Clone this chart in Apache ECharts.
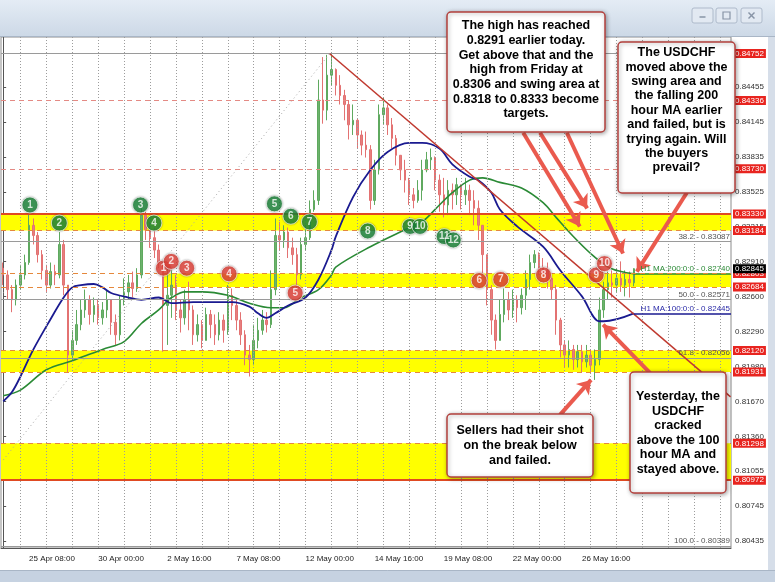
<!DOCTYPE html>
<html>
<head>
<meta charset="utf-8">
<script src="https://cdn.jsdelivr.net/npm/echarts@6/dist/echarts.min.js"></script>
<style>
html,body{margin:0;padding:0;background:#fff;}
#chart{width:775px;height:582px;}
</style>
</head>
<body>
<div id="chart"></div>
<script>
// USDCHF H1 chart, one candle per 4 hours
var catCount = 169;
var yMin = 0.80371, yMax = 0.84898;
var xTickLabels = ['25 Apr 08:00','30 Apr 00:00','2 May 16:00','7 May 08:00','12 May 00:00','14 May 16:00','19 May 08:00','22 May 00:00','26 May 16:00'];
var xTickIndex = [6,22,38,54,70,86,102,118,134];
var yTickValues = [0.84455,0.84145,0.83835,0.83525,0.83215,0.82910,0.82600,0.82290,0.81980,0.81670,0.81360,0.81055,0.80745,0.80435];

var firstOpen = 0.8285;
var closes = [
  .8279,.8266,.8257,.8270,.8279,.8290,.8323,.8314,.8297,.8283,
  .8270,.8282,.8279,.8306,.8270,.8208,.8221,.8235,.8248,.8257,
  .8244,.8252,.8241,.8248,.8257,.8237,.8226,.8257,.8264,.8272,
  .8267,.8279,.8332,.8319,.8312,.8301,.8290,.8252,.8261,.8270,
  .8248,.8241,.8257,.8248,.8226,.8235,.8221,.8244,.8235,.8226,
  .8239,.8230,.8261,.8252,.8239,.8226,.8208,.8204,.8221,.8230,
  .8239,.8235,.8266,.8314,.8310,.8317,.8303,.8297,.8279,.8306,
  .8312,.8337,.8345,.8434,.8425,.8456,.8461,.8447,.8438,.8430,
  .8412,.8416,.8403,.8394,.8390,.8345,.8372,.8421,.8427,.8412,
  .8400,.8385,.8372,.8363,.8350,.8345,.8354,.8372,.8381,.8383,
  .8363,.8350,.8341,.8354,.8350,.8359,.8350,.8354,.8345,.8338,
  .8323,.8297,.8266,.8239,.8221,.8244,.8257,.8248,.8257,.8250,
  .8261,.8275,.8290,.8297,.8285,.8283,.8276,.8266,.8239,.8217,
  .8208,.8213,.8204,.8211,.8202,.8208,.8199,.8204,.8248,.8266,
  .8272,.8270,.8276,.8270,.8275,.8272,.82845
];
var highs = [
  .8290,.8283,.8270,.8275,.8288,.8297,.8334,.8329,.8317,.8301,
  .8288,.8290,.8288,.8317,.8310,.8270,.8230,.8248,.8257,.8266,
  .8261,.8259,.8257,.8255,.8266,.8257,.8244,.8261,.8276,.8279,
  .8282,.8285,.8338,.8335,.8326,.8321,.8306,.8290,.8285,.8285,
  .8279,.8257,.8266,.8273,.8252,.8244,.8239,.8250,.8248,.8244,
  .8246,.8244,.8270,.8267,.8257,.8246,.8230,.8217,.8235,.8241,
  .8248,.8246,.8283,.8329,.8326,.8323,.8321,.8312,.8303,.8312,
  .8323,.8345,.8354,.8452,.8472,.8474,.8475,.8462,.8456,.8443,
  .8434,.8430,.8418,.8407,.8406,.8394,.8381,.8430,.8436,.8430,
  .8418,.8403,.8385,.8381,.8365,.8356,.8363,.8381,.8388,.8391,
  .8384,.8368,.8365,.8363,.8360,.8365,.8359,.8365,.8359,.8354,
  .8345,.8323,.8297,.8270,.8244,.8257,.8267,.8264,.8266,.8261,
  .8267,.8283,.8297,.8301,.8299,.8294,.8290,.8279,.8270,.8241,
  .8221,.8221,.8217,.8217,.8217,.8217,.8213,.8213,.8259,.8273,
  .8282,.8283,.8285,.8291,.8283,.8282,.8285
];
var lows = [
  .8270,.8257,.8246,.8252,.8266,.8275,.8288,.8306,.8290,.8275,
  .8264,.8267,.8270,.8276,.8261,.8193,.8202,.8217,.8230,.8241,
  .8235,.8237,.8235,.8235,.8241,.8226,.8217,.8221,.8252,.8257,
  .8259,.8264,.8276,.8310,.8303,.8294,.8285,.8211,.8217,.8241,
  .8239,.8228,.8235,.8230,.8217,.8220,.8214,.8221,.8223,.8217,
  .8221,.8219,.8226,.8239,.8230,.8217,.8199,.8189,.8199,.8214,
  .8226,.8228,.8232,.8261,.8301,.8303,.8294,.8288,.8261,.8275,
  .8301,.8310,.8335,.8341,.8413,.8416,.8447,.8438,.8430,.8416,
  .8399,.8403,.8391,.8385,.8383,.8337,.8341,.8368,.8412,.8403,
  .8391,.8376,.8363,.8352,.8341,.8338,.8343,.8345,.8370,.8372,
  .8354,.8335,.8330,.8332,.8337,.8341,.8337,.8341,.8332,.8323,
  .8310,.8279,.8252,.8226,.8213,.8221,.8237,.8239,.8241,.8237,
  .8244,.8248,.8266,.8285,.8279,.8275,.8267,.8257,.8226,.8206,
  .8197,.8197,.8195,.8197,.8193,.8197,.8193,.8186,.8199,.8241,
  .8257,.8259,.8264,.8264,.8260,.8259,.8269
];

// moving averages: [candle index, value]
var ma100 = [[0,.8167],[2,.8175],[4,.8189],[7,.8213],[11,.8240],[14,.8259],[16,.8268],[18,.8270],[21,.8271],[23,.8268],
  [25,.8263],[29,.8259],[32,.8257],[36,.8259],[39,.8254],[44,.8255],[48,.8255],[53,.8255],[57,.8251],[59,.8245],
  [61,.8241],[63,.8245],[66,.8252],[70,.8259],[73,.8275],[76,.8301],[77,.8313],[81,.8348],[85,.8372],[89,.8388],
  [94,.8396],[97,.8396],[101,.8391],[104,.8377],[108,.8366],[110,.8363],[113,.8352],[115,.8337],[119,.8322],[125,.8304],
  [129,.8283],[134,.8260],[138,.8238],[139,.8238],[146,.8245]];
var ma200 = [[0,.8172],[4,.8177],[10,.8195],[16,.8203],[23,.8213],[28,.8220],[32,.8236],[36,.8248],[38,.8256],[39,.8259],
  [42,.8264],[46,.8264],[52,.8261],[57,.8254],[62,.8250],[65,.8250],[69,.8259],[73,.8266],[76,.8279],[77,.8286],
  [85,.8304],[93,.8319],[97,.8326],[101,.8341],[104,.8352],[108,.8363],[111,.8365],[115,.8361],[120,.8356],[125,.8343],
  [128,.8330],[132,.8313],[136,.8298],[140,.8286],[143,.8282],[146,.8280]];
var ma100Text = 'H1 MA:100:0:0 - 0.82445';
var ma200Text = 'H1 MA:200:0:0 - 0.82740';

var levels = [0.84752,0.84336,0.83730,0.83330,0.83184,0.82803,0.82684,0.82120,0.81931,0.81298,0.80972];
var solidLevels = [0.83330,0.80972];
var faintLevels = [0.84336,0.83730];
var fibLevelOnly = [0.84752];
var bands = [[0.83330,0.83184],[0.82803,0.82684],[0.82120,0.81931],[0.81298,0.80972]];
var lateBand = 1, lateBandStart = 37;
var fibNames = ['0.0','38.2','50.0','61.8','100.0'];
var fibValues = [0.84752,0.83087,0.82571,0.82056,0.80389];
var fibDiagonal = [[0,0.8115],[75.6,0.8475]];
var trendLine = [[75.6,0.8475],[168.4,0.8171]];
var currentPrice = 0.82845;

var greenMarks = [[6.2,.8341,'1'],[13.0,.8325,'2'],[31.8,.8341,'3'],[34.9,.8325,'4'],[62.8,.8342,'5'],[66.6,.8331,'6'],
  [70.9,.8326,'7'],[84.4,.8318,'8'],[94.2,.8322,'9'],[96.5,.8322,'10'],[102.1,.8313,'11'],[104.2,.8310,'12']];
var redMarks = [[37.1,.8285,'1'],[38.9,.8291,'2'],[42.5,.8285,'3'],[52.3,.8280,'4'],[67.6,.8263,'5'],
  [110.2,.8274,'6'],[115.2,.8275,'7'],[125.1,.8279,'8'],[137.3,.8279,'9'],[139.2,.8289,'10']];

var arrows = [
  [[120.4,.8405],[133.5,.8322]],
  [[124.3,.8405],[135.2,.8338]],
  [[130.5,.8405],[143.5,.8298]],
  [[158.3,.8352],[146.7,.8282]],
  [[149.8,.8192],[138.9,.8235]],
  [[128.9,.8155],[136.1,.8186]]
];

var notes = [
  {box:[447,12,158,120], top:18.4, lh:14.7, text:['The high has reached','0.8291 earlier today.','Get above that and the','high from Friday at','0.8306 and swing area at','0.8318 to 0.8333 become','targets.']},
  {box:[618,42,117,151], top:45.5, lh:14.4, text:['The USDCHF','moved above the','swing area and','the falling 200','hour MA earlier','and failed, but is','trying again. Will','the buyers','prevail?']},
  {box:[630,372,96,121], top:389.5, lh:14.5, text:['Yesterday, the','USDCHF','cracked','above the 100','hour MA and','stayed above.']},
  {box:[447,414,146,63], top:423.5, lh:15, text:['Sellers had their shot','on the break below','and failed.']}
];

var FONT = '"Liberation Sans", Arial, sans-serif';
var CLEAR = 'rgba(0,0,0,0)';

var cats = [];
for (var i = 0; i < catCount; i++) cats.push(String(i));
var labelMap = {};
xTickIndex.forEach(function (idx, k) { labelMap[idx] = xTickLabels[k]; });

var candles = closes.map(function (c, i) {
  return [i === 0 ? firstOpen : closes[i - 1], c, lows[i], highs[i]];
});

var xLo = -0.5, xHi = catCount - 0.5;

// yellow zones
var areaData = bands.map(function (b, k) {
  return [{coord:[k === lateBand ? lateBandStart : xLo, b[0]]}, {coord:[xHi, b[1]]}];
});

function hLine(v, lineStyle, label) {
  return [{coord:[xLo, v], lineStyle:lineStyle, label:label}, {coord:[xHi, v]}];
}

// daily dotted grid lines
var gridLines = [];
for (var g = 4; g < catCount; g += 6) {
  gridLines.push([{coord:[g, yMin], lineStyle:{type:[1,2], color:'#9c9c9c', width:1}, label:{show:false}}, {coord:[g, yMax]}]);
}

var levelLines = [];
fibValues.forEach(function (v, k) {
  levelLines.push(hLine(v, {type:'solid', color:'#9a9a9a', width:1},
    {show:true, position:'insideEndTop', formatter:fibNames[k] + ' - ' + v.toFixed(5), color:'#555', fontSize:8, fontFamily:FONT, distance:1}));
});
function tagLabel(v, bg) {
  return {show:true, position:'end', formatter:v.toFixed(5), backgroundColor:bg, color:'#fff', fontSize:8, fontFamily:FONT, padding:[1,2,0,2], distance:2};
}
var tagLines = [];
levels.forEach(function (v) {
  var ls;
  if (solidLevels.indexOf(v) >= 0) ls = {type:'solid', color:'#e04a22', width:2};
  else if (faintLevels.indexOf(v) >= 0) ls = {type:[5,4], color:'#e48a84', width:1};
  else if (fibLevelOnly.indexOf(v) >= 0) ls = {color:CLEAR, width:1};
  else ls = {type:[5,4], color:'#e5883c', width:1.2};
  tagLines.push(hLine(v, ls, tagLabel(v, '#e8241f')));
});
tagLines.push(hLine(currentPrice, {color:CLEAR, width:1}, tagLabel(currentPrice, '#000')));

function markSeries(list, color) {
  return {
    type:'scatter', xAxisIndex:1, z:6, data:list, symbolSize:16,
    itemStyle:{color:color, borderColor:'rgba(255,255,255,0.85)', borderWidth:1, shadowBlur:2, shadowColor:'rgba(0,0,0,0.4)'},
    label:{show:true, position:'inside', formatter:function (p) { return p.value[2]; }, color:'#fff', fontSize:10, fontWeight:'bold', fontFamily:FONT},
    silent:true
  };
}

var graphics = [
  {type:'rect', z:100, shape:{x:0, y:0, width:775, height:37},
    style:{fill:new echarts.graphic.LinearGradient(0,0,0,1,[{offset:0,color:'#e4ecf5'},{offset:1,color:'#ccd8e6'}])}},
  {type:'line', z:100, shape:{x1:0, y1:36.5, x2:775, y2:36.5}, style:{stroke:'#a9b6c6', lineWidth:1}},
  {type:'rect', z:100, shape:{x:768, y:37, width:7, height:533}, style:{fill:'#d6dee9'}},
  {type:'rect', z:100, shape:{x:0, y:570, width:775, height:12}, style:{fill:'#c6d2e1'}},
  {type:'line', z:100, shape:{x1:0, y1:570.5, x2:775, y2:570.5}, style:{stroke:'#a9b6c6', lineWidth:1}}
];
[692,716,741].forEach(function (bx, k) {
  graphics.push({type:'rect', z:101, shape:{x:bx, y:8, width:21, height:15, r:2}, style:{fill:'#e2e9f2', stroke:'#aebacb', lineWidth:1}});
  var gx = bx + 10.5;
  if (k === 0) graphics.push({type:'line', z:102, shape:{x1:gx-3, y1:17, x2:gx+3, y2:17}, style:{stroke:'#8794a6', lineWidth:1.5}});
  if (k === 1) graphics.push({type:'rect', z:102, shape:{x:gx-3.5, y:12, width:7, height:7}, style:{fill:'none', stroke:'#8794a6', lineWidth:1.2}});
  if (k === 2) {
    graphics.push({type:'line', z:102, shape:{x1:gx-3, y1:12.5, x2:gx+3, y2:18.5}, style:{stroke:'#8794a6', lineWidth:1.5}});
    graphics.push({type:'line', z:102, shape:{x1:gx-3, y1:18.5, x2:gx+3, y2:12.5}, style:{stroke:'#8794a6', lineWidth:1.5}});
  }
});
notes.forEach(function (n) {
  var b = n.box;
  graphics.push({type:'rect', z:110, shape:{x:b[0], y:b[1], width:b[2], height:b[3], r:4},
    style:{fill:'#fff', stroke:'#b3403d', lineWidth:1.5, shadowBlur:4, shadowColor:'rgba(0,0,0,0.35)', shadowOffsetX:1, shadowOffsetY:1}});
  graphics.push({type:'text', z:111, style:{text:n.text.join('\n'), x:b[0] + b[2] / 2, y:n.top,
    align:'center', textAlign:'center', verticalAlign:'top', textVerticalAlign:'top',
    font:'bold 12.5px ' + FONT, lineHeight:n.lh, fill:'#000'}});
});

var chart = echarts.init(document.getElementById('chart'), null, {renderer:'canvas'});
chart.setOption({
  animation:false,
  backgroundColor:'#fff',
  grid:{left:1, right:44, top:37, bottom:34, show:true, borderColor:'#8c8c8c', borderWidth:1, backgroundColor:'#fff'},
  xAxis:[
    {type:'category', data:cats, boundaryGap:true,
      axisLine:{lineStyle:{color:'#555'}},
      axisTick:{alignWithLabel:true, interval:function (i) { return (i - 4) % 6 === 0; }, length:5, lineStyle:{color:'#555'}},
      axisLabel:{interval:function (i) { return labelMap[i] !== undefined; }, formatter:function (v, i) { return labelMap[i] || ''; },
        align:'left', fontSize:8, color:'#222', margin:7, fontFamily:FONT},
      splitLine:{show:false}},
    {type:'value', min:xLo, max:xHi, show:false}
  ],
  yAxis:{type:'value', position:'right', min:yMin, max:yMax,
    axisLine:{show:true, lineStyle:{color:'#555'}},
    axisTick:{show:true, customValues:yTickValues, length:3, lineStyle:{color:'#555'}},
    axisLabel:{customValues:yTickValues, formatter:function (v) { return v.toFixed(5); }, fontSize:8, color:'#333', margin:4, fontFamily:FONT},
    splitLine:{show:false}},
  series:[
    {type:'line', xAxisIndex:1, data:[], z:1, silent:true,
      markArea:{silent:true, itemStyle:{color:'#ffff00'}, data:areaData}},
    {type:'line', xAxisIndex:1, data:[], z:2, silent:true,
      markLine:{silent:true, symbol:'none', animation:false, data:gridLines}},
    {type:'line', xAxisIndex:1, data:[], z:2, silent:true,
      markLine:{silent:true, symbol:'none', animation:false, data:levelLines}},
    {type:'line', xAxisIndex:1, data:[], z:2, silent:true,
      markLine:{silent:true, symbol:'none', animation:false, data:[
        [{coord:fibDiagonal[0], lineStyle:{type:[1,3], color:'#a8a8a8', width:1}}, {coord:fibDiagonal[1]}],
        [{coord:trendLine[0], lineStyle:{type:'solid', color:'#c0392f', width:1.5}}, {coord:trendLine[1]}]
      ], label:{show:false}}},
    {type:'candlestick', xAxisIndex:0, z:3, data:candles, barWidth:2,
      itemStyle:{color:'#6db36d', color0:'#e67f7f', borderColor:'#5fa95f', borderColor0:'#e37272', borderWidth:1}},
    {type:'line', xAxisIndex:1, z:4, data:ma200, smooth:0.35, showSymbol:false, silent:true,
      lineStyle:{color:'#2a8a35', width:1.6},
      markLine:{silent:true, symbol:'none', data:[[{coord:[146, ma200[ma200.length - 1][1]]}, {coord:[xHi, ma200[ma200.length - 1][1]]}]],
        lineStyle:{color:'#2a8a35', width:1.6, type:'solid'},
        label:{show:true, position:'insideEndTop', formatter:ma200Text, color:'#2a8a35', fontSize:8, fontFamily:FONT, distance:1}}},
    {type:'line', xAxisIndex:1, z:4, data:ma100, smooth:0.35, showSymbol:false, silent:true,
      lineStyle:{color:'#1a1a90', width:1.8},
      markLine:{silent:true, symbol:'none', data:[[{coord:[146, ma100[ma100.length - 1][1]]}, {coord:[xHi, ma100[ma100.length - 1][1]]}]],
        lineStyle:{color:'#1a1a90', width:1.6, type:'solid'},
        label:{show:true, position:'insideEndTop', formatter:ma100Text, color:'#2a2aa8', fontSize:8, fontFamily:FONT, distance:1}}},
    {type:'line', xAxisIndex:1, data:[], z:5, silent:true,
      markLine:{silent:true, symbol:'none', animation:false, data:tagLines}},
    markSeries(greenMarks, '#1e8a3c'),
    markSeries(redMarks, '#e8453c'),
    {type:'line', xAxisIndex:1, data:[], z:7, silent:true,
      markLine:{silent:true, symbol:['none','arrow'], symbolSize:13, animation:false,
        lineStyle:{color:'#ea5a4e', width:4, type:'solid'}, label:{show:false},
        data:arrows.map(function (a) { return [{coord:a[0]}, {coord:a[1]}]; })}}
  ],
  graphic:graphics
});
</script>
</body>
</html>
